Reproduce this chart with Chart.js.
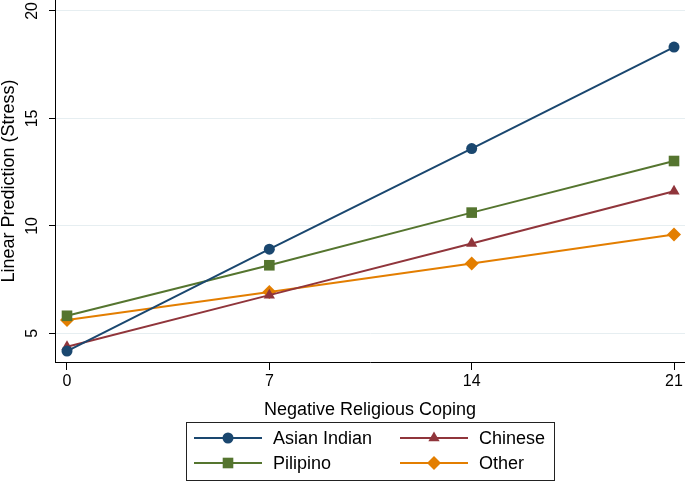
<!DOCTYPE html>
<html>
<head>
<meta charset="utf-8">
<script src="https://cdn.jsdelivr.net/npm/chart.js@4.4.1/dist/chart.umd.min.js"></script>
<style>
  html, body { margin: 0; padding: 0; background: #fff; }
</style>
</head>
<body>
<canvas id="stress-chart" width="685" height="481"></canvas>
<script>
// values
const copingLevels = [0, 7, 14, 21];
const asianIndian = [4.18, 8.92, 13.6, 18.32];
const chinese = [4.38, 6.78, 9.18, 11.61];
const pilipino = [5.82, 8.17, 10.62, 13.02];
const other = [5.62, 6.93, 8.25, 9.6];
const yTicks = [5, 10, 15, 20];

const FONT = '"Liberation Sans", Arial, Helvetica, sans-serif';

function points(values) {
    return copingLevels.map((x, i) => ({ x: x, y: values[i] }));
}

function series(label, values, color, style, radius) {
    return {
        label: label,
        data: points(values),
        borderColor: color,
        backgroundColor: color,
        borderWidth: 2,
        pointStyle: style,
        pointRadius: radius,
        pointBorderWidth: 0,
        pointBackgroundColor: color,
        clip: false,
        tension: 0
    };
}

// boxed two-column legend under the x title, like Stata draws it
const boxedLegend = {
    id: 'boxedLegend',
    afterDraw(chart) {
        const ctx = chart.ctx;
        const box = { left: 186, top: 422, right: 554, bottom: 480 };
        ctx.save();
        ctx.strokeStyle = '#222';
        ctx.lineWidth = 1;
        ctx.strokeRect(box.left + 0.5, box.top + 0.5, box.right - box.left, box.bottom - box.top);

        chart.data.datasets.forEach((ds, i) => {
            const col = i % 2;
            const row = Math.floor(i / 2);
            const x0 = 194 + col * 206;
            const y = 438 + row * 25;
            ctx.strokeStyle = ds.borderColor;
            ctx.lineWidth = 2;
            ctx.beginPath();
            ctx.moveTo(x0, y);
            ctx.lineTo(x0 + 68, y);
            ctx.stroke();
            ctx.fillStyle = ds.borderColor;
            Chart.helpers.drawPoint(ctx, {
                pointStyle: ds.pointStyle,
                radius: ds.pointRadius,
                rotation: 0,
                borderWidth: 0
            }, x0 + 34, y);
            ctx.fillStyle = '#000';
            ctx.font = '18px ' + FONT;
            ctx.textBaseline = 'middle';
            ctx.textAlign = 'left';
            ctx.fillText(ds.label, x0 + 79, y + 1);
        });
        ctx.restore();
    }
};

const ctx = document.getElementById('stress-chart');

new Chart(ctx, {
    type: 'line',
    data: {
        datasets: [
            series('Asian Indian', asianIndian, '#1a476f', 'circle', 5.5),
            series('Chinese', chinese, '#90353b', 'triangle', 6.5),
            series('Pilipino', pilipino, '#55752f', 'rect', 7.5),
            series('Other', other, '#e37e00', 'rectRot', 7)
        ]
    },
    options: {
        responsive: false,
        animation: false,
        devicePixelRatio: 1,
        layout: { autoPadding: false, padding: { top: 0, left: 0, right: 0, bottom: 60 } },
        plugins: {
            legend: { display: false },
            tooltip: { enabled: false }
        },
        scales: {
            x: {
                type: 'linear',
                min: -0.415,
                max: 21.38,
                afterBuildTicks: (scale) => { scale.ticks = copingLevels.map(v => ({ value: v })); },
                afterFit: (scale) => {
                    scale.height = 59;
                    scale.paddingLeft = 0;
                    scale.paddingRight = 0;
                },
                grid: { drawOnChartArea: false, tickLength: 8, tickColor: '#000' },
                border: { color: '#000', width: 1 },
                ticks: { color: '#000', padding: 2, autoSkip: false, maxRotation: 0, font: { family: FONT, size: 16 } },
                title: {
                    display: true,
                    text: 'Negative Religious Coping',
                    color: '#000',
                    padding: { top: 0, bottom: 0 },
                    font: { family: FONT, size: 18 }
                }
            },
            y: {
                min: 3.67,
                max: 20.51,
                afterBuildTicks: (scale) => { scale.ticks = yTicks.map(v => ({ value: v })); },
                afterFit: (scale) => {
                    scale.width = 55;
                    scale.paddingTop = 0;
                    scale.paddingBottom = 0;
                },
                grid: { color: '#e6eef1', tickColor: '#000', tickLength: 6 },
                border: { color: '#000', width: 1 },
                ticks: {
                    color: '#000',
                    minRotation: 90,
                    maxRotation: 90,
                    crossAlign: 'center',
                    padding: 8,
                    font: { family: FONT, size: 16 }
                },
                title: {
                    display: true,
                    text: 'Linear Prediction (Stress)',
                    color: '#000',
                    padding: { top: 0, bottom: 0 },
                    font: { family: FONT, size: 18, lineHeight: 1 }
                }
            }
        }
    },
    plugins: [boxedLegend]
});
</script>
</body>
</html>
